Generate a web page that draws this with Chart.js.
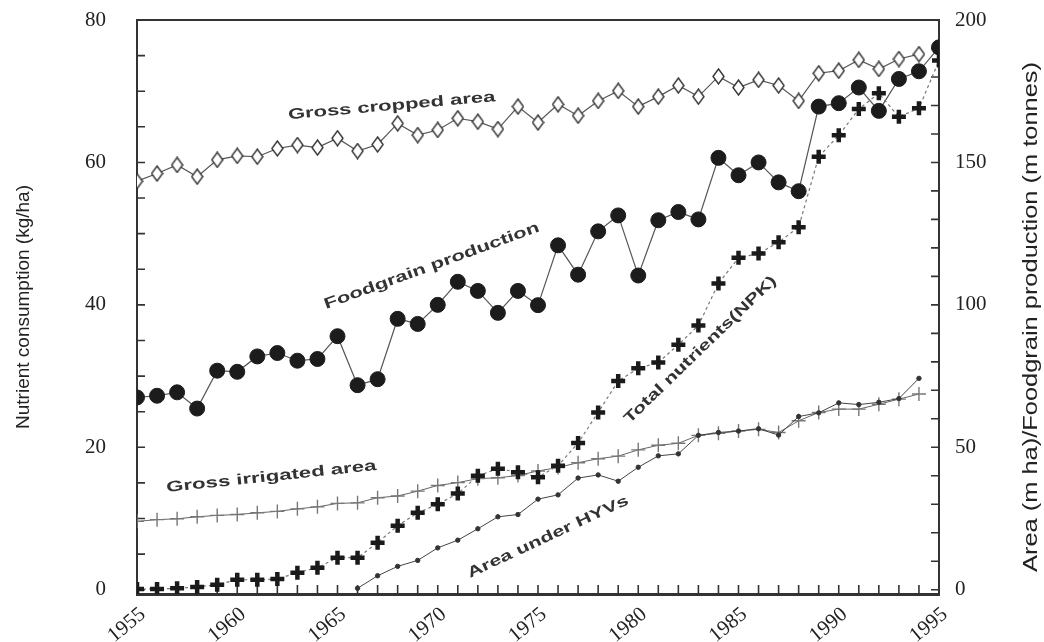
<!DOCTYPE html>
<html>
<head>
<meta charset="utf-8">
<script src="https://cdn.jsdelivr.net/npm/chart.js@4.4.0/dist/chart.umd.min.js"></script>
<style>
  html, body { margin: 0; padding: 0; background: #fff; }
  #wrap { width: 1044px; height: 642px; }
</style>
</head>
<body>
<div id="wrap"><canvas id="chart"></canvas></div>
<script>
const years = [1955, 1956, 1957, 1958, 1959, 1960, 1961, 1962, 1963, 1964,
  1965, 1966, 1967, 1968, 1969, 1970, 1971, 1972, 1973, 1974,
  1975, 1976, 1977, 1978, 1979, 1980, 1981, 1982, 1983, 1984,
  1985, 1986, 1987, 1988, 1989, 1990, 1991, 1992, 1993, 1994, 1995];

// right axis (m ha / m tonnes)
const grossCropped = [143.4, 146.1, 149.1, 145.0, 150.9, 152.3, 152.0, 154.9, 156.1, 155.2,
  158.5, 154.0, 156.3, 163.7, 159.6, 161.4, 165.5, 164.3, 161.7, 169.6,
  164.0, 170.4, 166.4, 171.6, 175.1, 169.6, 173.1, 177.0, 173.1, 180.2,
  176.3, 179.0, 177.0, 171.6, 181.3, 182.2, 186.0, 182.8, 186.3, 188.0, null];
const foodgrain = [67.5, 68.1, 69.3, 63.6, 76.9, 76.5, 81.9, 83.1, 80.4, 81.0,
  89.0, 71.8, 73.9, 95.1, 93.3, 100.0, 108.1, 104.9, 97.2, 104.9,
  99.9, 120.9, 110.6, 125.8, 131.4, 110.3, 129.7, 132.6, 130.0, 151.6,
  145.5, 150.0, 143.0, 139.9, 169.6, 170.8, 176.3, 168.1, 179.3, 182.0, 190.4];
const grossIrrigated = [24.0, 24.6, 24.9, 25.6, 26.1, 26.4, 27.0, 27.5, 28.4, 29.1,
  30.3, 30.5, 32.3, 32.9, 34.6, 36.6, 37.6, 39.0, 39.3, 40.1,
  41.7, 42.9, 44.6, 46.0, 46.9, 49.1, 50.7, 51.4, 54.2, 54.9,
  55.7, 56.3, 55.2, 59.3, 62.2, 63.4, 63.4, 65.1, 66.9, 68.7, null];
const areaHYV = [null, null, null, null, null, null, null, null, null, null,
  null, 0.5, 4.9, 8.2, 10.3, 14.7, 17.4, 21.4, 25.6, 26.4,
  31.8, 33.3, 39.2, 40.3, 38.1, 43.0, 47.0, 47.7, 54.2, 55.2,
  55.7, 56.5, 54.3, 60.8, 62.1, 65.6, 65.0, 65.8, 67.1, 74.2, null];
// left axis (kg/ha)
const totalNPK = [0.1, 0.1, 0.2, 0.4, 0.7, 1.4, 1.4, 1.5, 2.4, 3.1,
  4.5, 4.5, 6.6, 9.0, 10.8, 12.0, 13.5, 16.0, 17.0, 16.5,
  15.8, 17.4, 20.6, 24.9, 29.3, 31.1, 31.9, 34.4, 37.1, 43.0,
  46.6, 47.2, 48.8, 50.9, 60.8, 63.8, 67.5, 69.7, 66.4, 67.6, 74.3];

const yearTicks = [1955, 1960, 1965, 1970, 1975, 1980, 1985, 1990, 1995];
const leftTicks = [0, 20, 40, 60, 80];
const rightTicks = [0, 50, 100, 150, 200];

const leftTitle = 'Nutrient consumption (kg/ha)';
const rightTitle = 'Area (m ha)/Foodgrain production (m tonnes)';

function pts(vals) {
  return years.map((yr, i) => ({ x: yr, y: vals[i] }));
}

// tall open diamond used for gross cropped area
function diamondMark() {
  const c = document.createElement('canvas');
  c.width = 13; c.height = 17;
  const g = c.getContext('2d');
  g.beginPath();
  g.moveTo(6.5, 1); g.lineTo(12, 8.5); g.lineTo(6.5, 16); g.lineTo(1, 8.5);
  g.closePath();
  g.fillStyle = '#fff';
  g.fill();
  g.lineWidth = 1.4;
  g.strokeStyle = '#333';
  g.stroke();
  return c;
}

const serif = 'Liberation Serif';
const sans = 'Liberation Sans';

// fixed axis boxes so the plot frame lands where the original's does
function fixWidth(w) {
  return s => { s.width = w; s.paddingTop = 0; s.paddingBottom = 0; };
}

// minor ticks drawn inside the frame, plus the top edge of the box
const frameTicks = {
  id: 'frameTicks',
  beforeDatasetsDraw(chart) {
    const { ctx, chartArea: a, scales } = chart;
    ctx.save();
    ctx.strokeStyle = '#333';
    ctx.lineWidth = 1.6;
    ctx.beginPath();
    for (let yr = 1955; yr <= 1995; yr++) {
      const x = scales.x.getPixelForValue(yr);
      ctx.moveTo(x, a.bottom); ctx.lineTo(x, a.bottom - 9);
    }
    for (let v = 0; v <= 80; v += 5) {
      const y = scales.y.getPixelForValue(v);
      ctx.moveTo(a.left, y); ctx.lineTo(a.left + 8, y);
    }
    for (let v = 0; v <= 200; v += 10) {
      const y = scales.y2.getPixelForValue(v);
      ctx.moveTo(a.right, y); ctx.lineTo(a.right - 8, y);
    }
    ctx.stroke();
    ctx.lineWidth = 2;
    ctx.beginPath();
    ctx.moveTo(a.left - 1, a.top); ctx.lineTo(a.right + 1, a.top);
    ctx.stroke();
    ctx.restore();
  }
};

// axis titles and the in-plot series names
const labelsPlugin = {
  id: 'labelsPlugin',
  afterDraw(chart, args, opts) {
    const { ctx, scales } = chart;
    ctx.save();
    ctx.fillStyle = '#222';
    ctx.textAlign = 'center';
    ctx.textBaseline = 'middle';

    ctx.save();
    ctx.font = '19px ' + sans;
    ctx.translate(24, 307);
    ctx.rotate(-Math.PI / 2);
    ctx.fillText(leftTitle, 0, 0);
    ctx.restore();

    ctx.save();
    ctx.font = '20px ' + sans;
    ctx.translate(1031, 317);
    ctx.rotate(-Math.PI / 2);
    const rw = ctx.measureText(rightTitle).width;
    ctx.scale(510 / rw, 1);
    ctx.fillText(rightTitle, 0, 0);
    ctx.restore();

    ctx.fillStyle = '#333';
    ctx.font = 'bold 15px ' + sans;
    opts.notes.forEach(n => {
      const x = scales.x.getPixelForValue(n.year);
      const y = scales.y2.getPixelForValue(n.value);
      ctx.save();
      ctx.translate(x, y);
      ctx.rotate(n.angle * Math.PI / 180);
      const w = ctx.measureText(n.text).width;
      ctx.scale(n.length / w, 1);
      ctx.fillText(n.text, 0, 0);
      ctx.restore();
    });
    ctx.restore();
  }
};

new Chart(document.getElementById('chart'), {
  type: 'line',
  data: {
    datasets: [
      {
        label: 'Total nutrients (NPK)',
        data: pts(totalNPK),
        yAxisID: 'y',
        borderColor: '#777',
        borderWidth: 1.2,
        borderDash: [3, 3],
        pointStyle: 'cross',
        pointRadius: 7,
        pointBorderWidth: 4.5,
        pointBorderColor: '#1a1a1a',
        tension: 0,
      },
      {
        label: 'Foodgrain production',
        data: pts(foodgrain),
        yAxisID: 'y2',
        borderColor: '#555',
        borderWidth: 1.2,
        pointStyle: 'circle',
        pointRadius: 7.5,
        pointBorderWidth: 1,
        pointBackgroundColor: '#1c1c1c',
        pointBorderColor: '#1c1c1c',
        tension: 0,
      },
      {
        label: 'Gross cropped area',
        data: pts(grossCropped),
        yAxisID: 'y2',
        borderColor: '#555',
        borderWidth: 1.2,
        pointStyle: diamondMark(),
        pointRadius: 7,
        tension: 0,
      },
      {
        label: 'Area under HYVs',
        data: pts(areaHYV),
        yAxisID: 'y2',
        borderColor: '#444',
        borderWidth: 1,
        pointStyle: 'circle',
        pointRadius: 2.2,
        pointBackgroundColor: '#333',
        pointBorderColor: '#333',
        tension: 0,
      },
      {
        label: 'Gross irrigated area',
        data: pts(grossIrrigated),
        yAxisID: 'y2',
        borderColor: '#666',
        borderWidth: 1,
        pointStyle: 'cross',
        pointRadius: 7,
        pointBorderWidth: 1.4,
        pointBorderColor: '#777',
        tension: 0,
      },
    ],
  },
  options: {
    responsive: true,
    maintainAspectRatio: false,
    animation: false,
    layout: { padding: { top: 20 } },
    plugins: {
      legend: { display: false },
      tooltip: { enabled: false },
      labelsPlugin: {
        notes: [
          { text: 'Gross cropped area', year: 1967.7, value: 169.8, angle: -5, length: 208 },
          { text: 'Foodgrain production', year: 1969.7, value: 113.6, angle: -20, length: 228 },
          { text: 'Total nutrients(NPK)', year: 1983.1, value: 84.2, angle: -44, length: 205 },
          { text: 'Gross irrigated area', year: 1961.7, value: 39.6, angle: -6, length: 211 },
          { text: 'Area under HYVs', year: 1975.5, value: 18.5, angle: -25, length: 176 },
        ],
      },
    },
    scales: {
      x: {
        type: 'linear',
        min: 1955,
        max: 1995,
        afterFit: s => { s.height = 48; },
        afterBuildTicks: s => { s.ticks = yearTicks.map(v => ({ value: v })); },
        ticks: {
          callback: v => String(v),
          font: { family: serif, size: 21 },
          color: '#222',
          minRotation: 40,
          maxRotation: 40,
          padding: 8,
          labelOffset: 6,
        },
        grid: { display: false, drawTicks: false },
        border: { display: true, color: '#333', width: 3 },
      },
      y: {
        position: 'left',
        min: -0.6,
        max: 80,
        afterFit: fixWidth(137),
        afterBuildTicks: s => { s.ticks = leftTicks.map(v => ({ value: v })); },
        ticks: {
          font: { family: serif, size: 21 },
          color: '#222',
          padding: 31,
        },
        grid: { display: false, drawTicks: false },
        border: { display: true, color: '#333', width: 2 },
      },
      y2: {
        position: 'right',
        min: -1.5,
        max: 200,
        afterFit: fixWidth(105),
        afterBuildTicks: s => { s.ticks = rightTicks.map(v => ({ value: v })); },
        ticks: {
          font: { family: serif, size: 21 },
          color: '#222',
          padding: 16,
        },
        grid: { display: false, drawTicks: false },
        border: { display: true, color: '#333', width: 2 },
      },
    },
  },
  plugins: [frameTicks, labelsPlugin],
});
</script>
</body>
</html>
